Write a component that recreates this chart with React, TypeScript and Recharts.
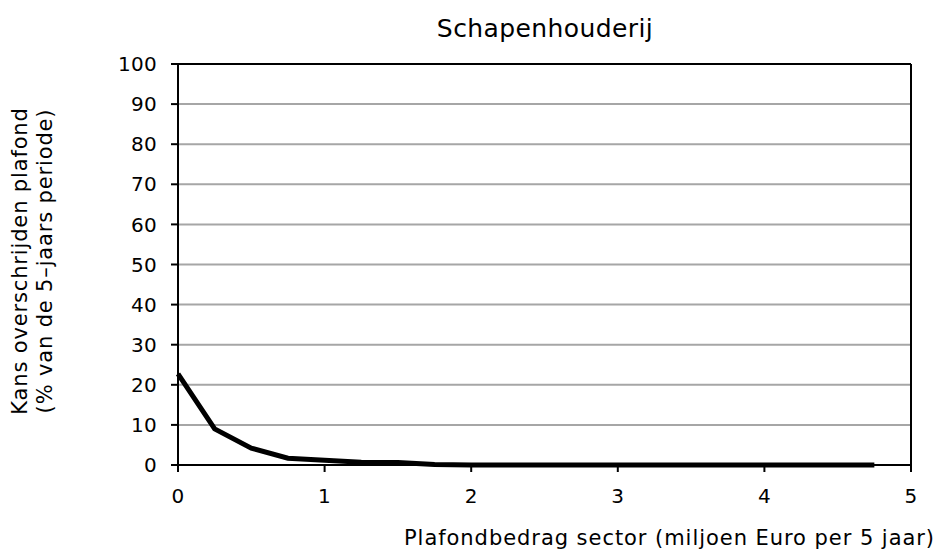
import React from 'react';
import {
  LineChart,
  Line,
  XAxis,
  YAxis,
  CartesianGrid,
  ReferenceLine,
  Customized,
} from 'recharts';

const bedrag = [0, 0.25, 0.5, 0.75, 1, 1.25, 1.5, 1.75, 2, 2.25, 2.5, 2.75, 3, 3.25, 3.5, 3.75, 4, 4.25, 4.5, 4.75];
const kans = [22.7, 9, 4.2, 1.7, 1.2, 0.7, 0.6, 0.1, 0, 0, 0, 0, 0, 0, 0, 0, 0, 0, 0, 0];
const xTicks = [0, 1, 2, 3, 4, 5];
const yTicks = [0, 10, 20, 30, 40, 50, 60, 70, 80, 90, 100];

const title = 'Schapenhouderij';
const xLabel = 'Plafondbedrag sector (miljoen Euro per 5 jaar)';
const yLabel1 = 'Kans overschrijden plafond';
const yLabel2 = '(% van de 5–jaars periode)';

const data = bedrag.map((x, i) => ({ x, kans: kans[i] }));

const font = '"DejaVu Sans", Verdana, sans-serif';

const Texts = () => (
  <g fontFamily={font} fill="#000">
    <text x={545} y={37} fontSize={25} letterSpacing={0.4} textAnchor="middle">{title}</text>
    <text x={935} y={545} fontSize={21} letterSpacing={0.95} textAnchor="end">{xLabel}</text>
    <text transform="translate(27,261) rotate(-90)" fontSize={21} letterSpacing={0.85} textAnchor="middle">{yLabel1}</text>
    <text transform="translate(52,261) rotate(-90)" fontSize={21} letterSpacing={0.85} textAnchor="middle">{yLabel2}</text>
  </g>
);

export default function App() {
  return (
    <div style={{ position: 'absolute', left: 0, top: 0, background: '#fff' }}>
      <LineChart
        width={941}
        height={552}
        data={data}
        margin={{ top: 64, right: 30, left: 118, bottom: 57 }}
      >
        <CartesianGrid vertical={false} stroke="#a6a6a6" strokeWidth={2} />
        <XAxis
          dataKey="x"
          type="number"
          domain={[0, 5]}
          ticks={xTicks}
          height={30}
          axisLine={{ stroke: '#000', strokeWidth: 2 }}
          tickLine={{ stroke: '#000', strokeWidth: 2 }}
          tickSize={7}
          tickMargin={17}
          tick={{ fill: '#000', fontSize: 20, fontFamily: font, letterSpacing: 0.3 }}
        />
        <YAxis
          type="number"
          domain={[0, 100]}
          ticks={yTicks}
          width={60}
          axisLine={{ stroke: '#000', strokeWidth: 2 }}
          tickLine={{ stroke: '#000', strokeWidth: 2 }}
          tickSize={7}
          tickMargin={14}
          tick={{ fill: '#000', fontSize: 20, fontFamily: font, letterSpacing: 0.3 }}
        />
        <ReferenceLine y={100} stroke="#000" strokeWidth={2} />
        <ReferenceLine x={5} stroke="#000" strokeWidth={2} />
        <Line
          type="linear"
          dataKey="kans"
          stroke="#000"
          strokeWidth={5}
          dot={false}
          isAnimationActive={false}
        />
        <Customized component={Texts} />
      </LineChart>
    </div>
  );
}
